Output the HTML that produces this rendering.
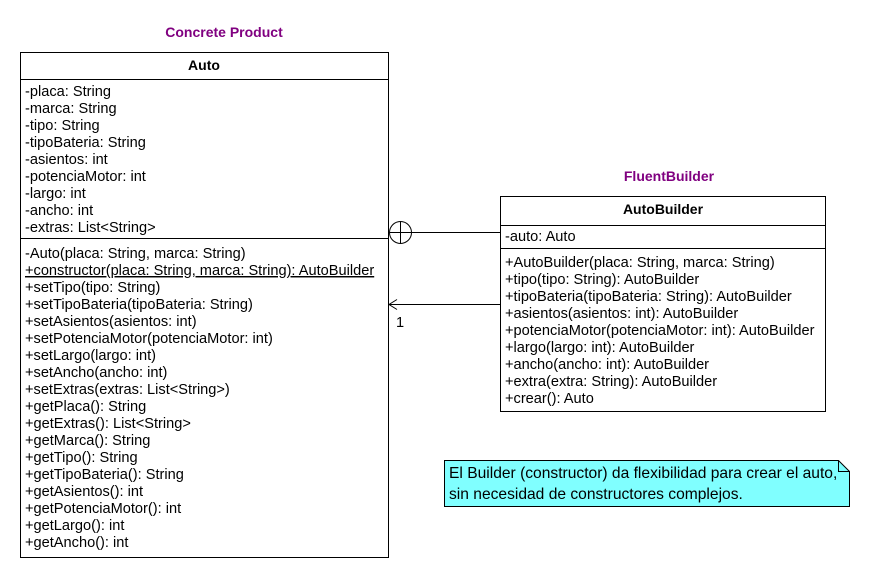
<!DOCTYPE html>
<html><head><style>body{margin:0;background:#fff}</style></head><body>
<svg width="870" height="578" xmlns="http://www.w3.org/2000/svg" font-family="Liberation Sans, sans-serif" font-size="14.6">
<rect width="870" height="578" fill="#fff"/>
<text x="224" y="37" text-anchor="middle" font-weight="bold" font-size="14" fill="#800080">Concrete Product</text>
<text x="669" y="181" text-anchor="middle" font-weight="bold" font-size="14" fill="#800080">FluentBuilder</text>
<rect x="20.5" y="52.5" width="368" height="505" fill="#fff" stroke="#000"/>
<line x1="20" y1="79.5" x2="388" y2="79.5" stroke="#000"/>
<line x1="20" y1="238.5" x2="388" y2="238.5" stroke="#000"/>
<text x="204" y="70" text-anchor="middle" font-weight="bold" font-size="14">Auto</text>
<g fill="#000">
<text x="25" y="96">-placa: String</text>
<text x="25" y="113">-marca: String</text>
<text x="25" y="130">-tipo: String</text>
<text x="25" y="147">-tipoBateria: String</text>
<text x="25" y="164">-asientos: int</text>
<text x="25" y="181">-potenciaMotor: int</text>
<text x="25" y="198">-largo: int</text>
<text x="25" y="215">-ancho: int</text>
<text x="25" y="232">-extras: List&lt;String&gt;</text>
<text x="25" y="258">-Auto(placa: String, marca: String)</text>
<text x="25" y="275" text-decoration="underline">+constructor(placa: String, marca: String): AutoBuilder</text>
<text x="25" y="292">+setTipo(tipo: String)</text>
<text x="25" y="309">+setTipoBateria(tipoBateria: String)</text>
<text x="25" y="326">+setAsientos(asientos: int)</text>
<text x="25" y="343">+setPotenciaMotor(potenciaMotor: int)</text>
<text x="25" y="360">+setLargo(largo: int)</text>
<text x="25" y="377">+setAncho(ancho: int)</text>
<text x="25" y="394">+setExtras(extras: List&lt;String&gt;)</text>
<text x="25" y="411">+getPlaca(): String</text>
<text x="25" y="428">+getExtras(): List&lt;String&gt;</text>
<text x="25" y="445">+getMarca(): String</text>
<text x="25" y="462">+getTipo(): String</text>
<text x="25" y="479">+getTipoBateria(): String</text>
<text x="25" y="496">+getAsientos(): int</text>
<text x="25" y="513">+getPotenciaMotor(): int</text>
<text x="25" y="530">+getLargo(): int</text>
<text x="25" y="547">+getAncho(): int</text>
</g>
<rect x="500.5" y="196.5" width="325" height="215" fill="#fff" stroke="#000"/>
<line x1="500" y1="225.5" x2="826" y2="225.5" stroke="#000"/>
<line x1="500" y1="248.5" x2="826" y2="248.5" stroke="#000"/>
<text x="663" y="214" text-anchor="middle" font-weight="bold" font-size="14">AutoBuilder</text>
<g fill="#000">
<text x="505" y="241">-auto: Auto</text>
<text x="505" y="267">+AutoBuilder(placa: String, marca: String)</text>
<text x="505" y="284">+tipo(tipo: String): AutoBuilder</text>
<text x="505" y="301">+tipoBateria(tipoBateria: String): AutoBuilder</text>
<text x="505" y="318">+asientos(asientos: int): AutoBuilder</text>
<text x="505" y="335">+potenciaMotor(potenciaMotor: int): AutoBuilder</text>
<text x="505" y="352">+largo(largo: int): AutoBuilder</text>
<text x="505" y="369">+ancho(ancho: int): AutoBuilder</text>
<text x="505" y="386">+extra(extra: String): AutoBuilder</text>
<text x="505" y="403">+crear(): Auto</text>
</g>
<circle cx="400.5" cy="232.5" r="11" fill="#fff" stroke="#000"/>
<line x1="389.5" y1="232.5" x2="411.5" y2="232.5" stroke="#000"/>
<line x1="400.5" y1="221.5" x2="400.5" y2="243.5" stroke="#000"/>
<line x1="411.5" y1="232.5" x2="500" y2="232.5" stroke="#000"/>
<line x1="389" y1="304.5" x2="500" y2="304.5" stroke="#000"/>
<polyline points="397,299.5 389,304.5 397,309.5" fill="none" stroke="#000"/>
<text x="396" y="327">1</text>
<path d="M444.5 460.5 H838.5 L849.5 471.5 V506.5 H444.5 Z" fill="#80ffff" stroke="#000"/>
<path d="M838.5 460.5 V471.5 H849.5" fill="none" stroke="#000"/>
<text x="449" y="478" font-size="15.6">El Builder (constructor) da flexibilidad para crear el auto,</text>
<text x="449" y="499" font-size="15.6">sin necesidad de constructores complejos.</text>
</svg>
</body></html>
